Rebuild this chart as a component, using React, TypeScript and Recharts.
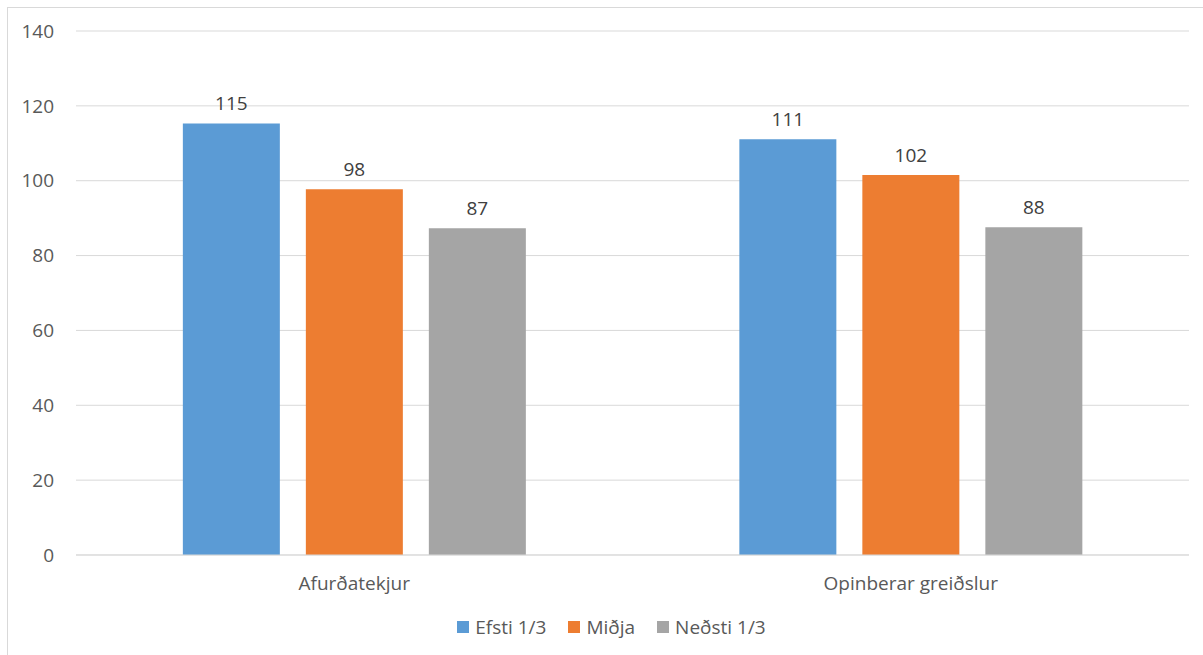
import { BarChart, Bar, XAxis, YAxis, CartesianGrid, Legend, LabelList } from 'recharts';

const categories = ['Afurðatekjur', 'Opinberar greiðslur'];
const efsti = [115.3, 111.1];
const midja = [97.7, 101.5];
const nedsti = [87.3, 87.6];
const yTicks = [0, 20, 40, 60, 80, 100, 120, 140];

const seriesNames = ['Efsti 1/3', 'Miðja', 'Neðsti 1/3'];
const seriesColors = ['#5b9bd5', '#ed7d31', '#a5a5a5'];

const data = categories.map((name, i) => ({
  name,
  efsti: efsti[i],
  midja: midja[i],
  nedsti: nedsti[i],
}));

const font = '"Open Sans", sans-serif';
const labelStyle = { fontSize: 19, fill: '#404040', fontFamily: font };
const roundLabel = (v: unknown) => Math.round(Number(v));

function LegendBox() {
  return (
    <div
      style={{
        display: 'flex',
        justifyContent: 'center',
        alignItems: 'center',
        gap: 22,
        fontFamily: font,
        fontSize: 19,
        color: '#595959',
        paddingTop: 14,
        paddingLeft: 18,
      }}
    >
      {seriesNames.map((n, i) => (
        <div key={n} style={{ display: 'flex', alignItems: 'center', gap: 6 }}>
          <span style={{ width: 12, height: 12, background: seriesColors[i], display: 'inline-block' }} />
          <span>{n}</span>
        </div>
      ))}
    </div>
  );
}

export default function App() {
  return (
    <div style={{ position: 'fixed', inset: 0, overflow: 'hidden', background: '#fff' }}>
      <div
        style={{
          position: 'absolute',
          left: 7,
          top: 7,
          width: 1220,
          height: 680,
          border: '1px solid #d9d9d9',
        }}
      />
      <div style={{ position: 'absolute', left: 0, top: 0 }}>
        <BarChart
          width={1203}
          height={655}
          data={data}
          margin={{ top: 31, right: 14, left: 16, bottom: 10 }}
          barCategoryGap="19.2%"
          barGap={26}
        >
          <CartesianGrid vertical={false} stroke="#d9d9d9" />
          <XAxis
            dataKey="name"
            axisLine={{ stroke: '#d9d9d9' }}
            tickLine={false}
            tick={{ fontSize: 19, fill: '#595959', fontFamily: font }}
            tickMargin={16}
            height={45}
          />
          <YAxis
            domain={[0, 140]}
            ticks={yTicks}
            axisLine={false}
            tickLine={false}
            tick={{ fontSize: 19, fill: '#595959', fontFamily: font }}
            tickMargin={16}
            width={60}
          />
          <Legend verticalAlign="bottom" height={45} content={() => <LegendBox />} />
          <Bar dataKey="efsti" name={seriesNames[0]} fill={seriesColors[0]} isAnimationActive={false}>
            <LabelList dataKey="efsti" position="top" offset={13} formatter={roundLabel} style={labelStyle} />
          </Bar>
          <Bar dataKey="midja" name={seriesNames[1]} fill={seriesColors[1]} isAnimationActive={false}>
            <LabelList dataKey="midja" position="top" offset={13} formatter={roundLabel} style={labelStyle} />
          </Bar>
          <Bar dataKey="nedsti" name={seriesNames[2]} fill={seriesColors[2]} isAnimationActive={false}>
            <LabelList dataKey="nedsti" position="top" offset={13} formatter={roundLabel} style={labelStyle} />
          </Bar>
        </BarChart>
      </div>
    </div>
  );
}
